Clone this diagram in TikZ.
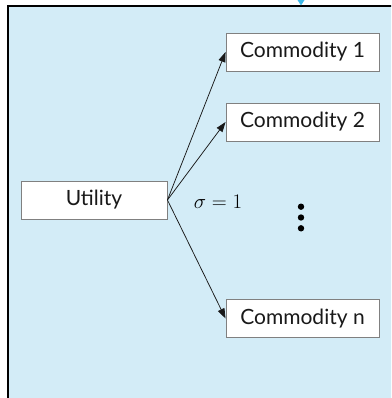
\documentclass[tikz,border=0pt]{standalone}
\usepackage{fontspec}
\setmainfont{Lato}
\usetikzlibrary{arrows.meta}
\definecolor{panelblue}{HTML}{D3ECF7}
\definecolor{boxgray}{HTML}{808080}
\definecolor{tipcyan}{HTML}{3DB9E9}
\tikzset{
  box/.style={draw=boxgray, line width=0.9pt, fill=white, inner sep=0pt,
    font=\fontsize{21}{24}\selectfont, text=black!90},
  link/.style={draw=black!90, line width=0.75pt, -{Triangle[length=10pt,width=7pt]}}
}
\begin{document}
\begin{tikzpicture}[x=1pt,y=-1pt]
\useasboundingbox (0,0) rectangle (391,398);
\begin{scope}
\clip (0,0) rectangle (391,398);
\draw[fill=panelblue, line width=1.3pt] (8,6) rectangle (400,410);
\end{scope}
\fill[tipcyan] (297.5,0) -- (304.5,0) -- (301,5.5) -- cycle;
\node[box, minimum width=146pt, minimum height=38pt] (u) at (94,200) {Utility};
\node[box, minimum width=153pt, minimum height=38pt] (c1) at (302.5,52) {Commodity 1};
\node[box, minimum width=153pt, minimum height=38pt] (c2) at (302.5,122) {Commodity 2};
\node[box, minimum width=153pt, minimum height=38pt] (cn) at (302.5,318.5) {Commodity n};
\draw[link] (u.east) -- (c1.west);
\draw[link] (u.east) -- (c2.west);
\draw[link] (u.east) -- (cn.west);
\node[font=\fontsize{20.5}{24}\selectfont, anchor=base, inner sep=0pt] (sig) at (218,208) {$\sigma = 1$};
\fill[black] (301,206.7) circle (3.2pt) (301,217.5) circle (3.2pt) (301,228.3) circle (3.2pt);
\end{tikzpicture}
\end{document}
